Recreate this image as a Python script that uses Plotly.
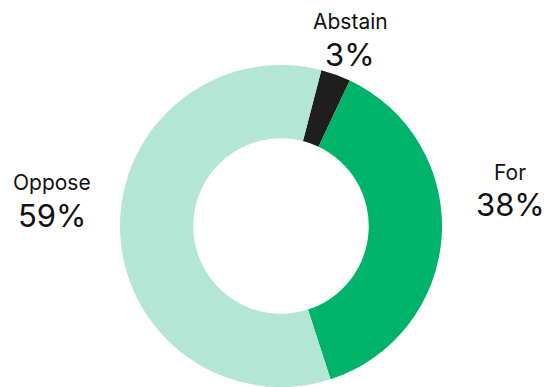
import plotly.graph_objects as go

labels = ["Abstain", "For", "Oppose"]
values = [3, 38, 59]
colors = ["#1e1e1e", "#00b36b", "#b3e6d4"]

W, H = 546, 387
# label placement (pixel centers) for name and percentage, per category
label_pos = {
    "Abstain": (350, 22, 54),
    "For": (510, 172, 204),
    "Oppose": (52, 183, 215),
}

fig = go.Figure(go.Pie(
    labels=labels,
    values=values,
    hole=0.545,
    sort=False,
    direction="clockwise",
    rotation=14.5,
    marker=dict(colors=colors, line=dict(width=0)),
    textinfo="none",
    showlegend=False,
    hoverinfo="label+percent",
    domain=dict(x=[120 / W, 442 / W], y=[0, 322 / H]),
))

total = sum(values)
font_family = "Inter, sans-serif"
for lab, val in zip(labels, values):
    x, y1, y2 = label_pos[lab]
    fig.add_annotation(x=x / W, y=1 - y1 / H, xref="paper", yref="paper",
                       text=lab, showarrow=False, xanchor="center", yanchor="middle",
                       font=dict(family=font_family, size=21, color="#111111"))
    fig.add_annotation(x=x / W, y=1 - y2 / H, xref="paper", yref="paper",
                       text=f"{round(val / total * 100)}%", showarrow=False,
                       xanchor="center", yanchor="middle",
                       font=dict(family=font_family, size=31, color="#111111"))

fig.update_layout(
    width=W, height=H,
    margin=dict(l=0, r=0, t=0, b=0),
    paper_bgcolor="white",
    plot_bgcolor="white",
)
fig.write_html("out.html")
